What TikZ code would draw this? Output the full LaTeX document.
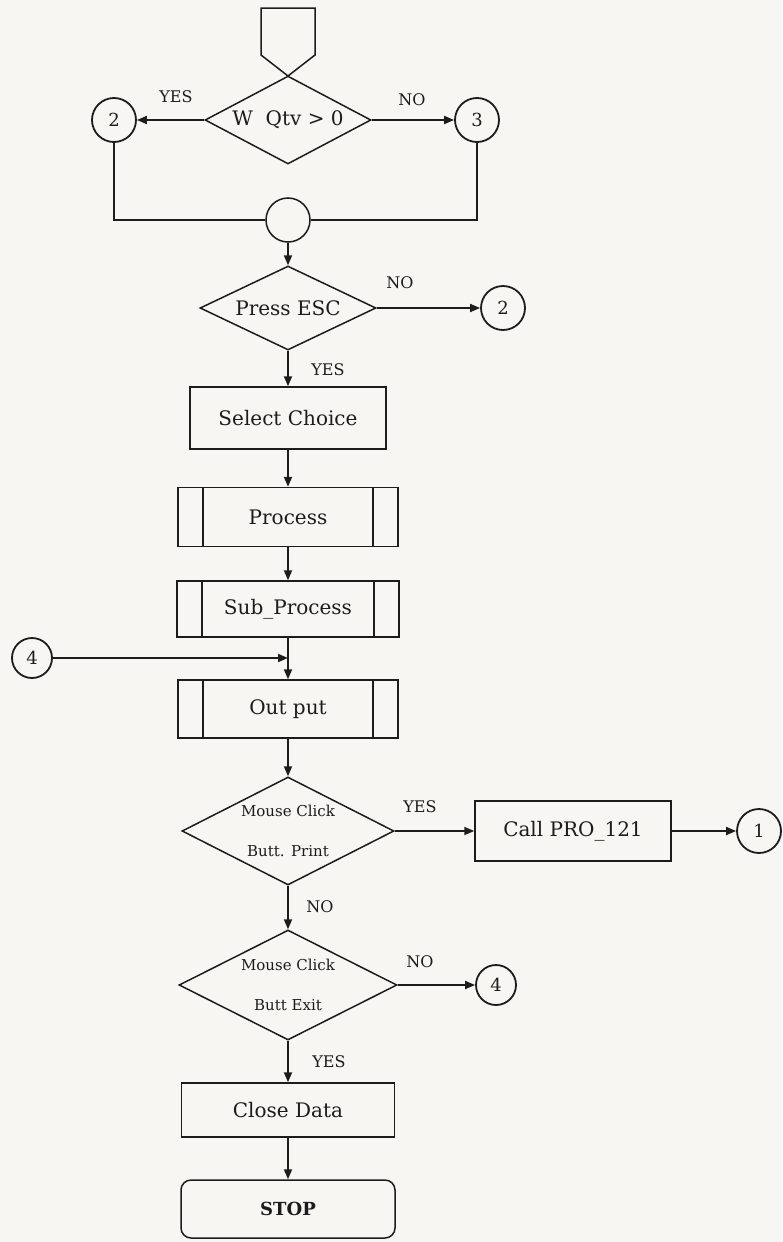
\documentclass[tikz,border=0pt]{standalone}
\usepackage{fontspec}
\setmainfont{DejaVu Serif}
\usetikzlibrary{arrows.meta,shapes.geometric}
\definecolor{bg}{RGB}{247,246,243}
\definecolor{ink}{RGB}{28,28,28}
\begin{document}
\begin{tikzpicture}[x=1pt,y=-1pt,
  line/.style={draw=ink, line width=1.5pt},
  arr/.style={draw=ink, line width=1.8pt, -{Triangle[length=10pt,width=8pt]}},
  box/.style={draw=ink, line width=1.5pt, rectangle, inner sep=0pt, text=ink,
    font=\fontsize{20}{24}\selectfont},
  pbox/.style={box, path picture={
      \draw[ink, line width=1.5pt] ([xshift=25pt]path picture bounding box.north west) -- ([xshift=25pt]path picture bounding box.south west);
      \draw[ink, line width=1.5pt] ([xshift=-25pt]path picture bounding box.north east) -- ([xshift=-25pt]path picture bounding box.south east);}},
  dec/.style={draw=ink, line width=1.5pt, diamond, inner sep=0pt, aspect=2, text=ink,
    font=\fontsize{20}{24}\selectfont},
  sdec/.style={dec, align=center, font=\fontsize{15}{40}\selectfont},
  conn/.style={draw=ink, line width=1.8pt, circle, inner sep=0pt, minimum size=44pt, text=ink,
    font=\fontsize{18}{20}\selectfont},
  lbl/.style={inner sep=0pt, text=ink, font=\fontsize{16}{18}\selectfont}
]
\fill[bg] (0,0) rectangle (782,1242);
\path[use as bounding box] (0,0) rectangle (782,1242);

% off-page connector
\draw[line] (261,8) -- (315,8) -- (315,55) -- (288,76) -- (261,55) -- cycle;
\coordinate (ofp) at (288,76);

% first decision
\node[dec, minimum width=166pt, minimum height=88pt] (d1) at (288,120) {W\ \ Qtv > 0};
\node[conn] (c2a) at (114,120) {2};
\node[conn] (c3) at (477,120) {3};
\node[lbl] (y1) at (176,97) {YES};
\node[lbl] (n1) at (412,100) {NO};
\draw[arr] (d1.west) -- (c2a.east);
\draw[arr] (d1.east) -- (c3.west);

% junction
\node[draw=ink, line width=1.5pt, circle, minimum size=44pt, inner sep=0pt] (jn) at (288,220) {};
\draw[line] (c2a.south) |- (jn.west);
\draw[line] (c3.south) |- (jn.east);

% Press ESC
\node[dec, minimum width=176pt, minimum height=84pt] (d2) at (288,308) {Press ESC};
\draw[arr] (jn.south) -- (d2.north);
\node[conn] (c2b) at (503,308) {2};
\node[lbl] (n2) at (400,283) {NO};
\draw[arr] (d2.east) -- (c2b.west);
\node[lbl] (y2) at (328,370) {YES};

% boxes
\node[box, minimum width=196pt, minimum height=62pt] (sel) at (288,418) {Select Choice};
\draw[arr] (d2.south) -- (sel.north);
\node[pbox, minimum width=220pt, minimum height=59pt] (proc) at (288,517) {Process};
\draw[arr] (sel.south) -- (proc.north);
\node[pbox, minimum width=222pt, minimum height=56pt] (sub) at (288,609) {Sub\_Process};
\draw[arr] (proc.south) -- (sub.north);
\node[pbox, minimum width=220pt, minimum height=58pt] (out) at (288,709) {Out put};
\draw[arr] (sub.south) -- (out.north);
\node[conn, minimum size=40pt] (c4a) at (32,658) {4};
\draw[arr] (c4a.east) -- (c4a.east -| out.north);

% Mouse click print
\node[sdec, minimum width=212pt, minimum height=108pt] (d3) at (288,831) {Mouse Click\\Butt. Print};
\draw[arr] (out.south) -- (d3.north);
\node[lbl] (y3) at (420,807) {YES};
\node[box, minimum width=196pt, minimum height=60pt] (call) at (573,831) {Call PRO\_121};
\draw[arr] (d3.east) -- (call.west);
\node[conn] (c1) at (759,831) {1};
\draw[arr] (call.east) -- (c1.west);
\node[lbl] (n3) at (320,907) {NO};

% Mouse click exit
\node[sdec, minimum width=218pt, minimum height=110pt] (d4) at (288,985) {Mouse Click\\Butt Exit};
\draw[arr] (d3.south) -- (d4.north);
\node[lbl] (n4) at (420,962) {NO};
\node[conn, minimum size=40pt] (c4b) at (496,985) {4};
\draw[arr] (d4.east) -- (c4b.west);
\node[lbl] (y4) at (329,1062) {YES};

% end
\node[box, minimum width=213pt, minimum height=54pt] (close) at (288,1110) {Close Data};
\draw[arr] (d4.south) -- (close.north);
\node[box, rounded corners=10pt, minimum width=214pt, minimum height=58pt,
  font=\fontsize{18}{22}\selectfont\bfseries] (stop) at (288,1209) {STOP};
\draw[arr] (close.south) -- (stop.north);
\end{tikzpicture}
\end{document}
